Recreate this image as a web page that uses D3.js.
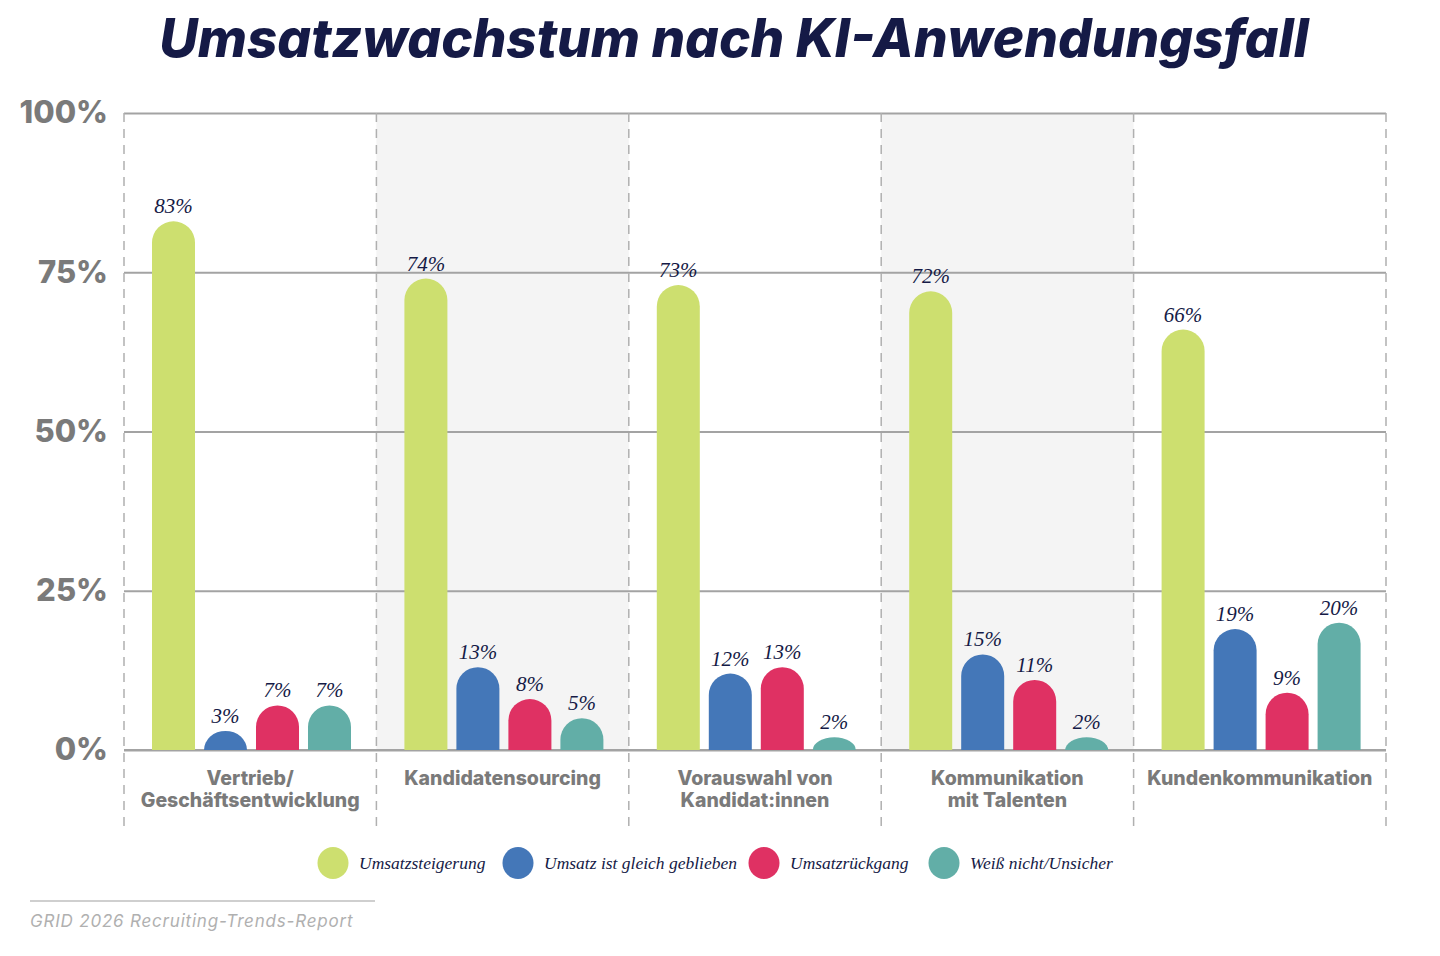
<!DOCTYPE html>
<html>
<head>
<meta charset="utf-8">
<script src="https://cdn.jsdelivr.net/npm/d3@7"></script>
<style>
  body { margin: 0; background: #fff; }
  svg { display: block; }
</style>
</head>
<body>
<svg id="chart" width="1440" height="956"></svg>
<script>
// chart data
var categories = [
  ['Vertrieb/', 'Geschäftsentwicklung'],
  ['Kandidatensourcing'],
  ['Vorauswahl von', 'Kandidat:innen'],
  ['Kommunikation', 'mit Talenten'],
  ['Kundenkommunikation']
];
var seriesNames = ['Umsatzsteigerung', 'Umsatz ist gleich geblieben', 'Umsatzrückgang', 'Weiß nicht/Unsicher'];
var seriesColors = ['#cddf6f', '#4477b8', '#df3163', '#62aea7'];
var umsatzsteigerung = [83, 74, 73, 72, 66];
var gleichGeblieben = [3, 13, 12, 15, 19];
var rueckgang = [7, 8, 13, 11, 9];
var weissNicht = [7, 5, 2, 2, 20];
var yTicks = [0, 25, 50, 75, 100];

(function() {

  var series = [umsatzsteigerung, gleichGeblieben, rueckgang, weissNicht];

  var svg = d3.select('#chart');
  var navy = '#151a46';
  var gray = '#7a7a7a';

  var plotLeft = 124, plotRight = 1386, plotTop = 113, plotBottom = 750;

  var x = d3.scaleBand().domain(d3.range(categories.length)).range([plotLeft, plotRight]).padding(0);
  var xInner = d3.scaleBand().domain(d3.range(series.length))
    .range([28, 28 + 199]).paddingInner(0.173).paddingOuter(0);
  var y = d3.scaleLinear().domain([0, 100]).range([plotBottom, plotTop]);

  // title
  svg.append('text')
    .attr('x', 734).attr('y', 57)
    .attr('text-anchor', 'middle')
    .style('font-family', 'Inter, sans-serif')
    .style('font-weight', 800)
    .style('font-style', 'italic')
    .style('font-size', '53px')
    .style('fill', navy)
    .text('Umsatzwachstum nach KI-Anwendungsfall');

  // shaded bands for every second category
  svg.append('g').selectAll('rect')
    .data([1, 3])
    .enter().append('rect')
      .attr('x', function(i) { return x(i); })
      .attr('y', y(100))
      .attr('width', x.bandwidth())
      .attr('height', y(0) - y(100))
      .style('fill', '#f4f4f4');

  // horizontal grid + y labels
  var yAxis = svg.append('g')
    .attr('transform', 'translate(' + plotLeft + ',0)')
    .call(d3.axisLeft(y).tickValues(yTicks).tickSize(-(plotRight - plotLeft)).tickPadding(16)
      .tickFormat(function(d) { return d + '%'; }));
  yAxis.select('.domain').remove();
  yAxis.selectAll('.tick line').style('stroke', '#a3a3a3').style('stroke-width', 2);
  yAxis.selectAll('.tick text')
    .style('font-family', 'Inter, sans-serif')
    .style('font-weight', 800)
    .style('font-size', '31px')
    .style('fill', gray);

  // dashed category separators
  svg.append('g').selectAll('line')
    .data(d3.range(categories.length + 1))
    .enter().append('line')
      .attr('x1', function(i) { return i < categories.length ? x(i) : plotRight; })
      .attr('x2', function(i) { return i < categories.length ? x(i) : plotRight; })
      .attr('y1', plotTop)
      .attr('y2', 833)
      .style('stroke', '#b0b0b0')
      .style('stroke-width', 1.5)
      .style('stroke-dasharray', '9,7');

  // baseline
  svg.append('line')
    .attr('x1', plotLeft).attr('x2', plotRight)
    .attr('y1', y(0)).attr('y2', y(0))
    .style('stroke', '#a3a3a3').style('stroke-width', 2);

  // rounded-top bar path
  function barPath(x0, w, y0, y1) {
    var h = y1 - y0;
    var rx = w / 2, ry = Math.min(w / 2, h);
    return 'M' + x0 + ',' + y1 +
      'L' + x0 + ',' + (y0 + ry) +
      'A' + rx + ',' + ry + ' 0 0 1 ' + (x0 + w) + ',' + (y0 + ry) +
      'L' + (x0 + w) + ',' + y1 + 'Z';
  }

  var bars = [];
  series.forEach(function(vals, s) {
    vals.forEach(function(v, c) {
      bars.push({ s: s, c: c, v: v });
    });
  });

  var barG = svg.append('g');
  barG.selectAll('path')
    .data(bars)
    .enter().append('path')
      .attr('d', function(d) {
        return barPath(x(d.c) + xInner(d.s), xInner.bandwidth(), y(d.v), y(0));
      })
      .style('fill', function(d) { return seriesColors[d.s]; });

  barG.selectAll('text')
    .data(bars)
    .enter().append('text')
      .attr('x', function(d) { return x(d.c) + xInner(d.s) + xInner.bandwidth() / 2; })
      .attr('y', function(d) { return y(d.v) - 8; })
      .attr('text-anchor', 'middle')
      .style('font-family', '"Liberation Serif", "DejaVu Serif", serif')
      .style('font-style', 'italic')
      .style('font-size', '21px')
      .style('fill', navy)
      .text(function(d) { return d.v + '%'; });

  // category labels
  var catG = svg.append('g');
  categories.forEach(function(lines, c) {
    var t = catG.append('text')
      .attr('x', x(c) + x.bandwidth() / 2)
      .attr('y', 785)
      .attr('text-anchor', 'middle')
      .style('font-family', 'Inter, sans-serif')
      .style('font-weight', 800)
      .style('font-size', '19.5px')
      .style('fill', gray);
    lines.forEach(function(l, i) {
      t.append('tspan')
        .attr('x', x(c) + x.bandwidth() / 2)
        .attr('dy', i === 0 ? 0 : 22)
        .text(l);
    });
  });

  // legend
  var legendX = [333, 518, 764, 944];
  var legend = svg.append('g').selectAll('g')
    .data(seriesNames)
    .enter().append('g')
      .attr('transform', function(d, i) { return 'translate(' + legendX[i] + ',863)'; });
  legend.append('ellipse')
    .attr('rx', 15.5)
    .attr('ry', 16)
    .style('fill', function(d, i) { return seriesColors[i]; });
  legend.append('text')
    .attr('x', 26)
    .attr('y', 6)
    .style('font-family', '"Liberation Serif", "DejaVu Serif", serif')
    .style('font-style', 'italic')
    .style('font-size', '17.5px')
    .style('fill', navy)
    .text(function(d) { return d; });

  // source
  svg.append('line')
    .attr('x1', 30).attr('x2', 375)
    .attr('y1', 901).attr('y2', 901)
    .style('stroke', '#cfcfcf').style('stroke-width', 2);
  svg.append('text')
    .attr('x', 30).attr('y', 927)
    .style('font-family', 'Inter, sans-serif')
    .style('font-style', 'italic')
    .style('font-size', '17px')
    .style('letter-spacing', '0.8px')
    .style('fill', '#b0b0b0')
    .text('GRID 2026 Recruiting-Trends-Report');

})();
</script>
</body>
</html>
